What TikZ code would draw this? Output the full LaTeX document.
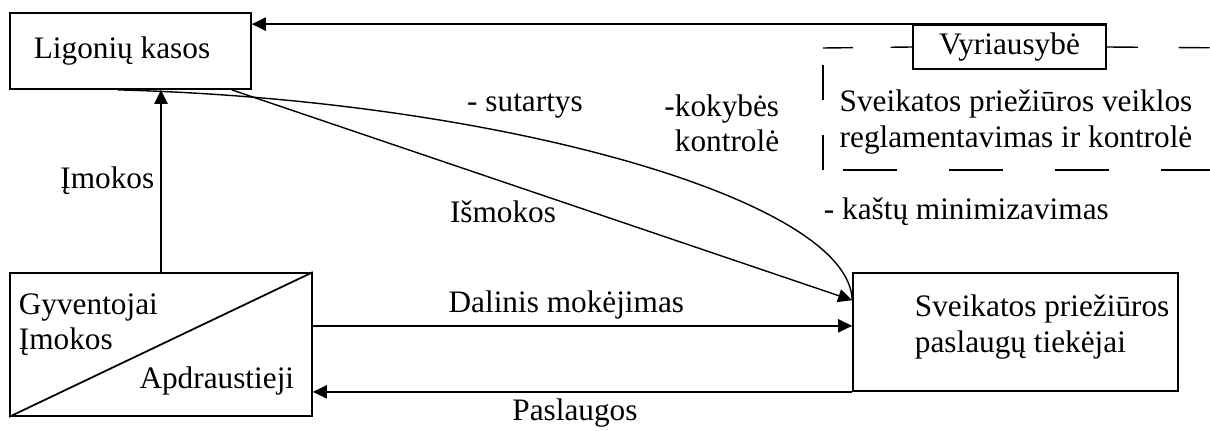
\documentclass[tikz,border=0pt]{standalone}
\usepackage{fontspec}
\setmainfont{Liberation Serif}
\usetikzlibrary{arrows.meta, positioning}

\tikzset{
  box/.style={draw, line width=1pt, inner sep=0pt},
  txt/.style={inner sep=0pt},
  thin line/.style={line width=0.8pt},
}

\begin{document}
\begin{tikzpicture}[x=0.02cm, y=0.02cm, line width=1pt, auto,
    >={Triangle[length=8pt, width=7.5pt]},
    font=\fontsize{17.8pt}{20pt}\selectfont]
  \useasboundingbox (0,0) rectangle (1210,430);

  \node[box, minimum width=4.82cm, minimum height=1.52cm] (ligon) at (130.5,379) {};
  \node[txt] (ligon text) at (122,379) {Ligonių kasos};
  \node[box, minimum width=6.04cm, minimum height=2.86cm] (gyv) at (161,85.5) {};
  \node[box, minimum width=6.5cm, minimum height=2.36cm] (tiek) at (1015.5,98) {};
  \node[box, minimum width=3.86cm, minimum height=0.88cm] (vyr) at (1009.5,383) {Vyriausybė};

  % insured people, split box
  \draw (gyv.south west) -- (gyv.north east);
  \node[txt, anchor=west, align=left] (gyv text) at (18,105) {Gyventojai\\Įmokos};
  \node[txt, anchor=east] (apdr) at (295,49) {Apdraustieji};
  \node[txt, anchor=west, align=left] (tiek text) at (914,103) {Sveikatos priežiūros\\paslaugų tiekėjai};

  % dashed frame round the government
  \coordinate (fr nw) at (823,382);
  \coordinate (fr sw) at (823,260);
  \coordinate (fr se) at (1240,260);
  \coordinate (fr ne) at (1240,382);
  \draw[thin line, dash pattern=on 17pt off 21.5pt] (fr nw) -- (vyr.west);
  \draw[thin line, dash pattern=on 17.6pt off 23.3pt] (vyr.east) -- (fr ne);
  \draw[thin line, dash pattern=on 20pt off 20pt] (fr sw) -- (fr nw);
  \draw[thin line, dash pattern=on 30.7pt off 29.6pt, dash phase=49pt] (fr sw) -- (fr se);
  \node[txt, align=center] (regl) at (1016,308) {Sveikatos priežiūros veiklos\\reglamentavimas ir kontrolė};

  % labels off the lines
  \node[txt] (ism) at (503,218) {Išmokos};
  \node[txt] (sut) at (525,324) {- sutartys};
  \node[txt, anchor=east, align=right] (kok) at (780,307) {-kokybės\\kontrolė};
  \node[txt, anchor=west] (kast) at (823,218) {- kaštų minimizavimas};

  \draw[thin line] (ligon.-108) .. controls (500,330) and (850,230) .. (tiek.169);

  \path[->]
  (vyr.north east) edge (vyr.north east -| ligon.east)
  (gyv.north)      edge node {Įmokos} (gyv.north |- ligon.south)
  (gyv.7.4)        edge node[pos=0.47] {Dalinis mokėjimas} (gyv.7.4 -| tiek.west)
  (tiek.south west) edge node[pos=0.514] {Paslaugos} (tiek.south west -| gyv.east)
  (ligon.-21)      edge[thin line] (tiek.169);
\end{tikzpicture}
\end{document}
